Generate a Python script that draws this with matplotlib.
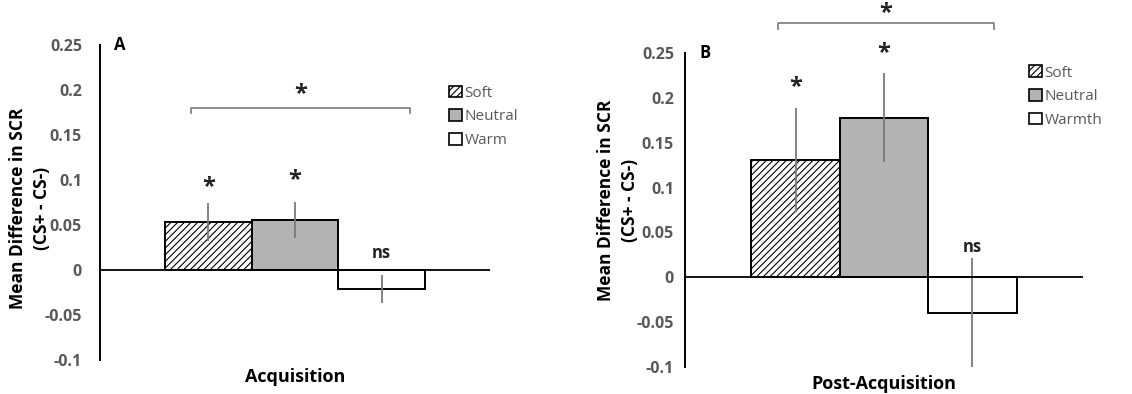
import numpy as np
import matplotlib
matplotlib.use("Agg")
import matplotlib.pyplot as plt
from matplotlib.patches import Patch

plt.rcParams['font.family'] = ['Open Sans', 'DejaVu Sans']
plt.rcParams['hatch.linewidth'] = 0.8

# дані
conditions_a = ["Soft", "Neutral", "Warm"]
conditions_b = ["Soft", "Neutral", "Warmth"]
acq_means = [0.053, 0.056, -0.021]
acq_errs = [0.021, 0.020, 0.016]
post_means = [0.131, 0.178, -0.040]
post_errs = [0.058, 0.050, 0.061]
acq_marks = ["*", "*", "ns"]
post_marks = ["*", "*", "ns"]
yticks = [-0.1, -0.05, 0, 0.05, 0.1, 0.15, 0.2, 0.25]
ytick_labels = ["-0.1", "-0.05", "0", "0.05", "0.1", "0.15", "0.2", "0.25"]

fills = ["white", "#b3b3b3", "white"]
hatches = ["/////", None, None]
gray_txt = "#595959"


def draw_panel(ax, means, errs, marks, names, letter, xlabel, mark_y, bracket,
               leg_anchor, ylab_pos, tick_pad):
    x = np.arange(len(means))
    for i in range(len(means)):
        ax.bar(x[i], means[i], width=1.0, color=fills[i], edgecolor="black",
               linewidth=1.4, hatch=hatches[i], zorder=2)
    ax.errorbar(x, means, yerr=errs, fmt="none", ecolor="#7a7a7a",
                elinewidth=1.3, capsize=0, zorder=3)
    ax.axhline(0, color="black", linewidth=1.3, zorder=4)

    for i, m in enumerate(marks):
        fs = 17 if m == "*" else 12
        ax.text(x[i], mark_y[i], m, ha="center", va="center", fontsize=fs,
                fontweight="bold", color="#222222")

    # скобка між Soft та Warm
    by, x0, x1, sy = bracket
    ax.plot([x0, x0, x1, x1], [by - 0.006, by, by, by - 0.006], color="#7a7a7a",
            linewidth=1.2, clip_on=False)
    ax.text((x0 + x1) / 2, sy, "*", ha="center", va="center", fontsize=17,
            fontweight="bold", color="#222222", clip_on=False)

    ax.set_xlim(-1.25, 3.25)
    ax.set_ylim(-0.1, 0.25)
    ax.set_yticks(yticks)
    ax.set_yticklabels(ytick_labels, fontsize=11.5, fontweight="bold", color=gray_txt)
    ax.tick_params(axis="y", length=0, pad=tick_pad)
    ax.set_xticks([])
    for s in ["top", "right", "bottom"]:
        ax.spines[s].set_visible(False)
    ax.spines["left"].set_linewidth(1.4)
    ax.text(ylab_pos[0], ylab_pos[1], "Mean Difference in SCR\n(CS+ - CS-)",
            transform=ax.transAxes, rotation=90, ha="center", va="center",
            fontsize=12.5, fontweight="bold", linespacing=1.45)
    ax.text(0.05, 1.0, letter, transform=ax.transAxes, fontsize=12,
            fontweight="bold", ha="center", va="center")
    ax.text(0.5, -0.055, xlabel, transform=ax.transAxes, fontsize=13,
            fontweight="bold", ha="center", va="center")

    handles = [Patch(facecolor=fills[i], edgecolor="black", hatch=hatches[i],
                     linewidth=1.2, label=names[i]) for i in range(len(names))]
    leg = ax.legend(handles=handles, loc="upper left", bbox_to_anchor=leg_anchor,
                    frameon=False, fontsize=11, handlelength=0.8, handleheight=0.8,
                    handletextpad=0.2, labelspacing=0.55, borderaxespad=0)
    for t in leg.get_texts():
        t.set_color(gray_txt)


fig = plt.figure(figsize=(11.32, 3.94), dpi=100)
ax_a = fig.add_axes([100 / 1132, 1 - 360 / 394, 390 / 1132, 315 / 394])
ax_b = fig.add_axes([685 / 1132, 1 - 367 / 394, 398 / 1132, 314 / 394])

draw_panel(ax_a, acq_means, acq_errs, acq_marks, conditions_a, "A", "Acquisition",
           [0.092, 0.100, 0.019], (0.180, -0.2, 2.33, 0.195), (0.88, 0.89),
           (-0.18, 0.48), 13)
draw_panel(ax_b, post_means, post_errs, post_marks, conditions_b, "B", "Post-Acquisition",
           [0.212, 0.250, 0.034], (0.283, -0.2, 2.24, 0.295), (0.85, 0.98),
           (-0.168, 0.53), 8)

fig.savefig("out.png", dpi=100)
